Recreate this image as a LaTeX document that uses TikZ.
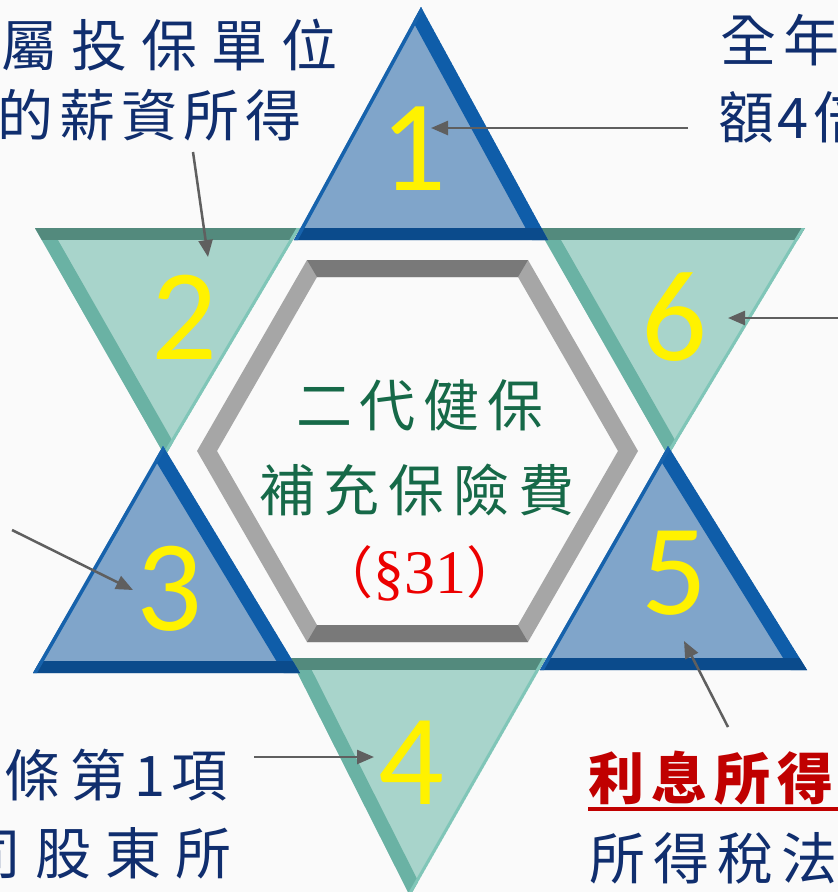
\documentclass[tikz,border=0pt]{standalone}
\usepackage{fontspec}
\setmainfont{Liberation Serif}
\newfontfamily\cjk{Noto Sans CJK TC}
\newfontfamily\digitfont{Carlito}
\newfontfamily\serifnum{Liberation Serif}
\usetikzlibrary{arrows.meta,calc}
\definecolor{bgc}{RGB}{250,250,250}
\definecolor{upin}{RGB}{128,165,202}
\definecolor{upedge}{RGB}{15,93,169}
\definecolor{upbot}{RGB}{11,75,140}
\definecolor{upthin}{RGB}{22,98,172}
\definecolor{dnin}{RGB}{168,212,203}
\definecolor{dnedge}{RGB}{106,178,164}
\definecolor{dntopc}{RGB}{83,138,125}
\definecolor{dnthin}{RGB}{128,198,184}
\definecolor{hexside}{RGB}{166,166,166}
\definecolor{hexdark}{RGB}{121,121,121}
\definecolor{arrgray}{RGB}{95,95,95}
\definecolor{navyc}{RGB}{16,46,110}
\definecolor{greenc}{RGB}{22,105,72}
\definecolor{redc}{RGB}{236,0,0}
\definecolor{darkred}{RGB}{192,0,0}
\tikzset{
  upfill/.style={fill=upin},
  upright/.style={draw=upedge, line width=28pt, line cap=rect},
  upbottom/.style={draw=upbot, line width=24pt, line cap=rect},
  upleft/.style={draw=upthin, line width=7pt, line cap=rect},
  dnfill/.style={fill=dnin},
  dnleft/.style={draw=dnedge, line width=28pt, line cap=rect},
  dntop/.style={draw=dntopc, line width=24pt, line cap=rect},
  dnright/.style={draw=dnthin, line width=6pt, line cap=rect},
  digit/.style={text=yellow, font=\digitfont\fontsize{130}{130}\selectfont, inner sep=0pt},
  arr/.style={draw=arrgray, line width=2.5pt, -{Triangle[length=17pt,width=14pt]}},
  navytext/.style={text=navyc, font=\cjk\fontsize{56}{56}\selectfont, inner sep=0pt},
  greentext/.style={text=greenc, font=\cjk\fontsize{56}{56}\selectfont, inner sep=0pt},
  redtext/.style={text=redc, inner sep=0pt},
  boldred/.style={text=darkred, font=\cjk\bfseries\fontsize{56}{56}\selectfont, inner sep=0pt},
  underl/.style={draw=darkred, line width=4pt},
}
\newcommand\uptri[3]{%
  \begin{scope}
    \clip (#1)--(#2)--(#3)--cycle;
    \fill[upfill] (#1)--(#2)--(#3)--cycle;
    \draw[upright] (#1)--(#3);
    \draw[upbottom] (#2)--(#3);
    \draw[upleft] (#1)--(#2);
  \end{scope}}
\newcommand\dntri[3]{%
  \begin{scope}
    \clip (#1)--(#2)--(#3)--cycle;
    \fill[dnfill] (#1)--(#2)--(#3)--cycle;
    \draw[dnleft] (#1)--(#3);
    \draw[dntop] (#1)--(#2);
    \draw[dnright] (#2)--(#3);
  \end{scope}}
\begin{document}
\begin{tikzpicture}[x=1pt,y=-1pt]
\path[use as bounding box] (0,0) rectangle (838,892);
\clip (0,0) rectangle (838,892);
\fill[bgc] (0,0) rectangle (838,892);

% triangle vertices
\coordinate (p1a) at (421,7);   \coordinate (p1b) at (294,240); \coordinate (p1c) at (548,240);
\coordinate (p2a) at (35,228);  \coordinate (p2b) at (300,228); \coordinate (p2c) at (165,456);
\coordinate (p6a) at (538,228); \coordinate (p6b) at (805,228); \coordinate (p6c) at (668,456);
\coordinate (p3a) at (163,446); \coordinate (p3b) at (33,673);  \coordinate (p3c) at (300,673);
\coordinate (p5a) at (668,446); \coordinate (p5b) at (540,670); \coordinate (p5c) at (807,670);
\coordinate (p4a) at (290,658); \coordinate (p4b) at (546,658); \coordinate (p4c) at (410,896);

\dntri{p2a}{p2b}{p2c}
\dntri{p6a}{p6b}{p6c}
\dntri{p4a}{p4b}{p4c}
\uptri{p1a}{p1b}{p1c}
\uptri{p3a}{p3b}{p3c}
\uptri{p5a}{p5b}{p5c}

% gray hexagon frame
\fill[hexside,even odd rule]
  (197,451)--(307,260)--(528,260)--(638,451)--(528,642)--(307,642)--cycle
  (217,451)--(317,277)--(518,277)--(618,451)--(518,625)--(317,625)--cycle;
\fill[hexdark] (307,260)--(528,260)--(518,277)--(317,277)--cycle;
\fill[hexdark] (307,642)--(528,642)--(518,625)--(317,625)--cycle;

% digits
\foreach \n/\x/\y in {1/413/149, 2/184/317, 6/674/317, 3/169/589, 5/674/573, 4/411/763}{
  \node[digit] (d\n) at (\x,\y) {\n};
}

% center text
\node[greentext] (c1) at (420,405) {二\kern8pt 代\kern8pt 健\kern8pt 保};
\node[greentext] (c2) at (417,490) {補\kern9pt 充\kern9pt 保\kern9pt 險\kern9pt 費};
\node[redtext] (c3) at (420,573) {{\cjk\fontsize{56}{56}\selectfont （}{\serifnum\fontsize{62}{62}\selectfont §31}{\cjk\fontsize{56}{56}\selectfont ）}};

% outer texts
\node[navytext, anchor=west] (tl1) at (1,45) {屬\kern14pt 投\kern14pt 保\kern14pt 單\kern14pt 位};
\node[navytext, anchor=east] (tl2) at (302,115) {的\kern6pt 薪\kern6pt 資\kern6pt 所\kern6pt 得};
\node[navytext, anchor=west] (tr1) at (720,40) {全\kern7pt 年};
\node[navytext, anchor=west] (tr2) at (718,117) {額\kern3pt 4\kern5pt 倍};
\node[navytext, anchor=west] (bl1) at (4,775) {條\kern10pt 第\kern8pt 1\kern6pt 項};
\node[navytext, anchor=east] (bl2) at (232,853) {司\kern14pt 股\kern14pt 東\kern14pt 所};
\node[boldred, anchor=west] (br1) at (588,778) {利\kern7pt 息\kern7pt 所\kern7pt 得};
\draw[underl] ([yshift=-4pt]br1.south west) -- ++(252,0);
\node[navytext, anchor=west] (br2) at (589,858) {所\kern8pt 得\kern8pt 稅\kern8pt 法};

% arrows
\coordinate (a1s) at (688,128); \coordinate (a1e) at (431,128);
\coordinate (a2s) at (193,152); \coordinate (a2e) at (208,257);
\coordinate (a6s) at (850,318); \coordinate (a6e) at (728,318);
\coordinate (a3s) at (12,530);  \coordinate (a3e) at (133,590);
\coordinate (a4s) at (254,757); \coordinate (a4e) at (374,757);
\coordinate (a5s) at (728,727); \coordinate (a5e) at (684,641);
\draw[arr] (a1s) -- (a1e);
\draw[arr] (a2s) -- (a2e);
\draw[arr] (a6s) -- (a6e);
\draw[arr] (a3s) -- (a3e);
\draw[arr] (a4s) -- (a4e);
\draw[arr] (a5s) -- (a5e);
\end{tikzpicture}
\end{document}
